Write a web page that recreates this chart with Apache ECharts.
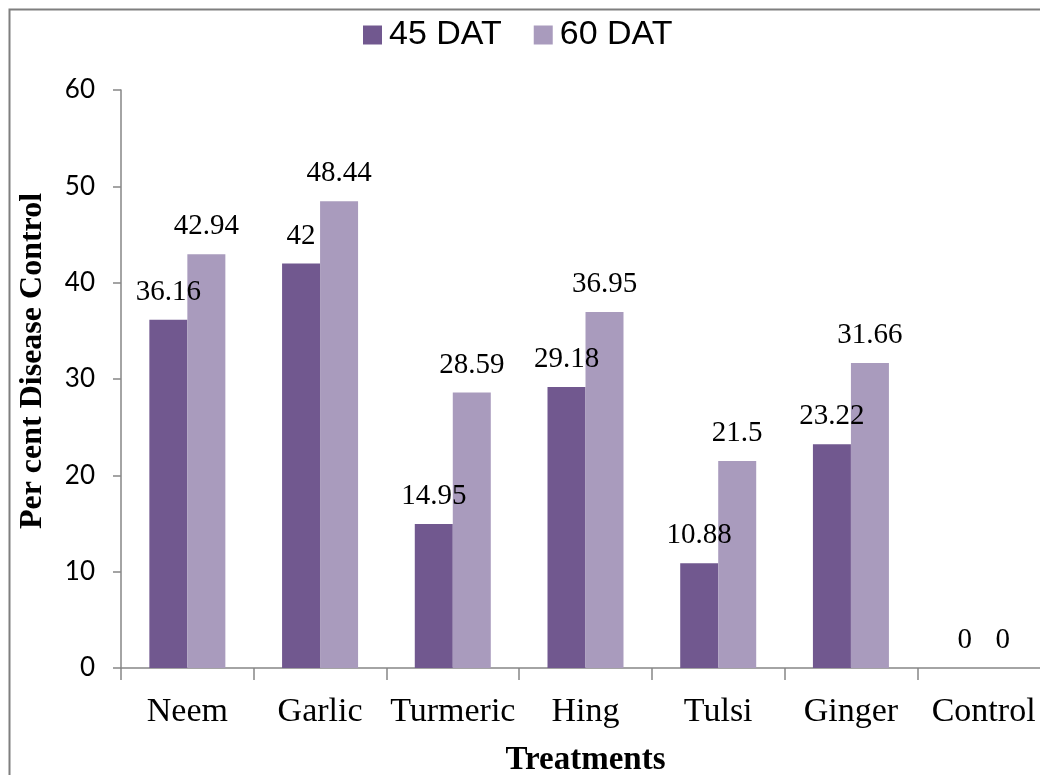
<!DOCTYPE html>
<html>
<head>
<meta charset="utf-8">
<script src="https://cdn.jsdelivr.net/npm/echarts@6/dist/echarts.min.js"></script>
<style>
  html, body { margin: 0; padding: 0; background: #fff; }
  #chart { width: 1040px; height: 775px; }
</style>
</head>
<body>
<div id="chart"></div>
<script>
/* ── Data ── */
const TREATMENTS = ['Neem', 'Garlic', 'Turmeric', 'Hing', 'Tulsi', 'Ginger', 'Control'];
const DAT_45 = [36.16, 42, 14.95, 29.18, 10.88, 23.22, 0];
const DAT_60 = [42.94, 48.44, 28.59, 36.95, 21.5, 31.66, 0];

/* ── Styles ── */
const SERIF = '"Times New Roman", "Liberation Serif", serif';
const SANS = 'Arial, "Liberation Sans", sans-serif';
const AXIS_GRAY = '#868686';
const COLOR_45 = '#71588F';
const COLOR_60 = '#A99BBD';

const chart = echarts.init(document.getElementById('chart'), null, { renderer: 'canvas' });

const barLabel = {
    show: true,
    position: 'top',
    distance: 13,
    fontFamily: SERIF,
    fontSize: 29,
    color: '#000',
};

chart.setOption({
    animation: false,
    graphic: [
        {
            type: 'rect',
            shape: { x: 9.5, y: 9.5, width: 1100, height: 1000 },
            style: { fill: 'none', stroke: '#7f7f7f', lineWidth: 2 },
            silent: true,
        },
    ],
    legend: {
        left: 358,
        top: 13,
        icon: 'rect',
        itemWidth: 19,
        itemHeight: 19,
        itemGap: 32,
        textStyle: { fontFamily: SANS, fontSize: 34, color: '#000', padding: [0, 0, 0, 2] },
        data: ['45 DAT', '60 DAT'],
    },
    grid: { left: 121, top: 90, width: 929, height: 578, containLabel: false, outerBoundsMode: 'none' },
    xAxis: {
        type: 'category',
        data: TREATMENTS,
        name: 'Treatments',
        nameLocation: 'middle',
        nameGap: 76,
        nameTextStyle: { fontFamily: SERIF, fontSize: 33, fontWeight: 'bold', color: '#000' },
        axisLine: { lineStyle: { color: AXIS_GRAY, width: 1.5 } },
        axisTick: { show: true, length: 12, lineStyle: { color: AXIS_GRAY, width: 1.5 } },
        axisLabel: { interval: 0, fontFamily: SERIF, fontSize: 34, color: '#000', margin: 27 },
        splitLine: { show: false },
    },
    yAxis: {
        type: 'value',
        min: 0,
        max: 60,
        interval: 10,
        name: 'Per cent Disease Control',
        nameLocation: 'middle',
        nameGap: 72,
        nameTextStyle: { fontFamily: SERIF, fontSize: 32, fontWeight: 'bold', color: '#000', padding: [0, 0, 0, 36] },
        axisLine: { show: true, lineStyle: { color: AXIS_GRAY, width: 1.5 } },
        axisTick: { show: true, length: 8, lineStyle: { color: AXIS_GRAY, width: 1.5 } },
        axisLabel: { fontFamily: 'Lato, "Open Sans", sans-serif', fontSize: 26, color: '#000', margin: 26 },
        splitLine: { show: false },
    },
    series: [
        {
            name: '45 DAT',
            type: 'bar',
            data: DAT_45,
            barWidth: 38,
            barGap: '0%',
            itemStyle: { color: COLOR_45 },
            label: barLabel,
        },
        {
            name: '60 DAT',
            type: 'bar',
            data: DAT_60,
            barWidth: 38,
            barGap: '0%',
            itemStyle: { color: COLOR_60 },
            label: barLabel,
        },
    ],
});
</script>
</body>
</html>
